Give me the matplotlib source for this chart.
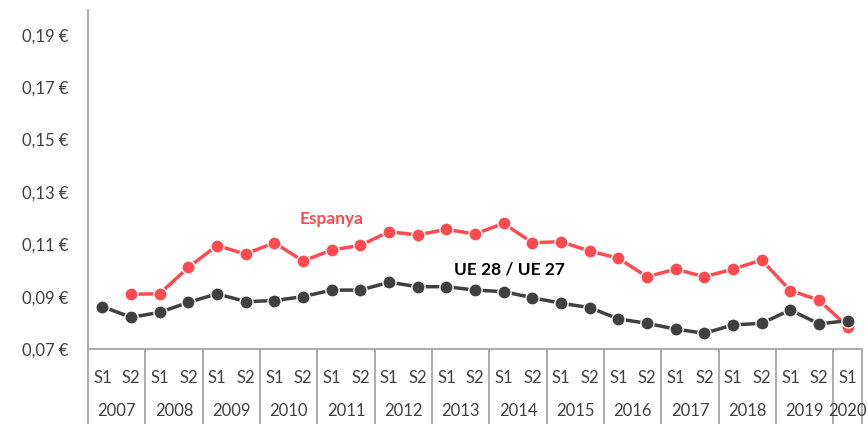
import numpy as np
import matplotlib.pyplot as plt
from matplotlib.ticker import FuncFormatter

plt.rcParams['font.family'] = ['Lato', 'DejaVu Sans']

years = [str(y) for y in range(2007, 2021)]
semesters = ['S1', 'S2'] * 13 + ['S1']

espanya = [np.nan, 0.0909, 0.0911, 0.1012, 0.1095, 0.1063, 0.1106, 0.1036, 0.1078,
           0.1096, 0.1148, 0.1136, 0.1157, 0.1139, 0.1180, 0.1106, 0.1110, 0.1074,
           0.1047, 0.0976, 0.1005, 0.0976, 0.1005, 0.1040, 0.0923, 0.0887, 0.0785]
ue = [0.0862, 0.0821, 0.0840, 0.0878, 0.0911, 0.0881, 0.0885, 0.0900, 0.0925,
      0.0925, 0.0955, 0.0938, 0.0938, 0.0925, 0.0919, 0.0896, 0.0875, 0.0858,
      0.0815, 0.0798, 0.0776, 0.0760, 0.0792, 0.0798, 0.0849, 0.0796, 0.0808]

red = '#FF4B4F'
dark = '#404040'
grey = '#A6A6A6'

fig = plt.figure(figsize=(8.68, 4.24), dpi=100)
ax = fig.add_axes([0.1014, 0.1769, 0.8917, 0.7995])

x = np.arange(len(semesters))
ax.plot(x, espanya, color=red, lw=2.5, marker='o', ms=9.5, mec='white', mew=1, zorder=3)
ax.plot(x, ue, color=dark, lw=2.5, marker='o', ms=9.5, mec='white', mew=1, zorder=4)

ax.text(8.0, 0.1195, 'Espanya', color=red, fontsize=12.5, fontweight='bold', ha='center', va='center')
ax.text(14.2, 0.1005, 'UE 28 / UE 27', color='black', fontsize=12.5, fontweight='bold', ha='center', va='center')

ax.set_xlim(-0.5, len(semesters) - 0.5)
ax.set_ylim(0.07, 0.1995)
ax.set_yticks(np.arange(0.07, 0.20, 0.02))
ax.yaxis.set_major_formatter(FuncFormatter(lambda v, p: ('%.2f €' % v).replace('.', ',')))
ax.tick_params(axis='y', length=0, pad=14, labelsize=12, labelcolor=dark)
ax.set_xticks([])

for s in ['top', 'right']:
    ax.spines[s].set_visible(False)
ax.spines['left'].set_color(grey)
ax.spines['bottom'].set_color(grey)
ax.spines['left'].set_linewidth(1.3)
ax.spines['bottom'].set_linewidth(1.3)

tr = ax.get_xaxis_transform()
# category table below the axis
for i, s in enumerate(semesters):
    ax.text(i, -0.0855, s, transform=tr, ha='center', va='center', fontsize=12, color=dark)
for k, yr in enumerate(years):
    xc = 2 * k + 0.5 if k < 13 else 2 * k
    ax.text(xc, -0.183, yr, transform=tr, ha='center', va='center', fontsize=12, color=dark)
bounds = [-0.5] + [2 * k + 1.5 for k in range(13)] + [len(semesters) - 0.5]
ax.vlines(bounds, -0.222, 0, transform=tr, colors=grey, lw=1.3, clip_on=False)

fig.savefig('out.png', dpi=100)
